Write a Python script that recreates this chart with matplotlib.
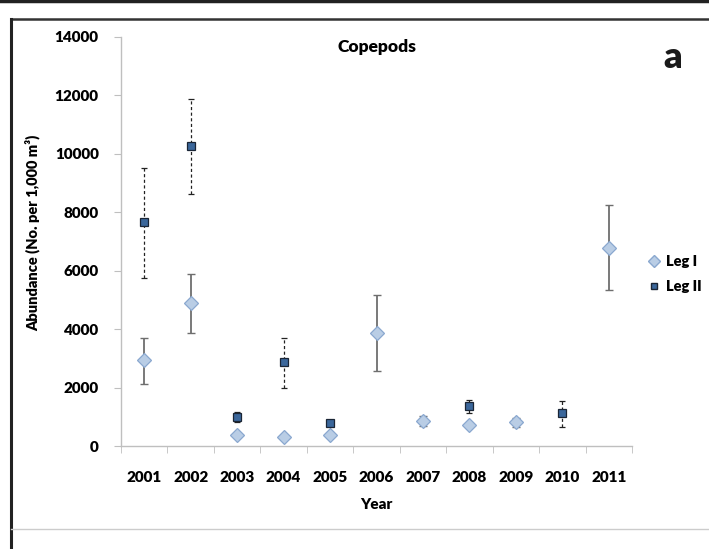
import numpy as np
import matplotlib
matplotlib.use("Agg")
import matplotlib.pyplot as plt
from matplotlib.lines import Line2D

# --- data (Copepods, panel a) ---
years = ["2001", "2002", "2003", "2004", "2005", "2006",
         "2007", "2008", "2009", "2010", "2011"]

leg1_mean = [2930, 4880, 380, 310, 370, 3870, 860, 720, 810, np.nan, 6780]
leg1_low = [2120, 3860, np.nan, np.nan, np.nan, 2570, 700, np.nan, 650, np.nan, 5350]
leg1_high = [3710, 5880, np.nan, np.nan, np.nan, 5170, 1020, np.nan, 970, np.nan, 8240]

leg2_mean = [7660, 10260, 1000, 2870, 790, np.nan, np.nan, 1380, np.nan, 1120, np.nan]
leg2_low = [5740, 8630, 810, 2000, np.nan, np.nan, np.nan, 1140, np.nan, 660, np.nan]
leg2_high = [9530, 11880, 1170, 3710, np.nan, np.nan, np.nan, 1590, np.nan, 1550, np.nan]

yticks = [0, 2000, 4000, 6000, 8000, 10000, 12000, 14000]

LEG1_FACE = "#b9cde5"
LEG1_EDGE = "#8aa8cf"
LEG2_FACE = "#3b679b"
LEG2_EDGE = "#1a2535"
AXIS_GRAY = "#bfbfbf"
BOLD = "heavy"  # Calibri Bold in the original looks heavier than Lato Bold

plt.rcParams["font.family"] = ["Lato", "DejaVu Sans"]
plt.rcParams["font.weight"] = BOLD


def err_from_bounds(mean, low, high):
    mean = np.asarray(mean, dtype=float)
    lo = mean - np.asarray(low, dtype=float)
    hi = np.asarray(high, dtype=float) - mean
    return np.vstack([np.nan_to_num(lo), np.nan_to_num(hi)])


fig = plt.figure(figsize=(7.09, 5.49), dpi=100)
ax = fig.add_axes([121 / 709, 1 - 446 / 549, 511 / 709, 409 / 549])

x = np.arange(len(years))

# Leg I: solid grey error bars
has1 = ~np.isnan(np.asarray(leg1_low, dtype=float))
ax.errorbar(x[has1], np.asarray(leg1_mean)[has1],
            yerr=err_from_bounds(leg1_mean, leg1_low, leg1_high)[:, has1],
            fmt="none", ecolor="#6e6e6e", elinewidth=1.3, capsize=3, capthick=1.0,
            zorder=2)
ax.plot(x, leg1_mean, linestyle="none", marker="D", markersize=7,
        markerfacecolor=LEG1_FACE, markeredgecolor=LEG1_EDGE, markeredgewidth=0.9, zorder=4)

# Leg II: dashed black error bars
has2 = ~np.isnan(np.asarray(leg2_low, dtype=float))
e2 = ax.errorbar(x[has2], np.asarray(leg2_mean)[has2],
                 yerr=err_from_bounds(leg2_mean, leg2_low, leg2_high)[:, has2],
                 fmt="none", ecolor="#222222", elinewidth=0.9, capsize=2, capthick=0.9,
                 zorder=2)
e2[2][0].set_linestyle((0, (2.5, 2)))
ax.plot(x, leg2_mean, linestyle="none", marker="s", markersize=5.5,
        markerfacecolor=LEG2_FACE, markeredgecolor=LEG2_EDGE, markeredgewidth=0.9, zorder=5)

ax.set_xlim(-0.5, len(years) - 0.5)
ax.set_ylim(0, 14000)
ax.set_yticks(yticks)
ax.set_yticklabels([str(v) for v in yticks], fontsize=11, fontweight=BOLD)

# category labels centred, tick marks on category boundaries
ax.set_xticks(x)
ax.set_xticklabels(years, fontsize=11, fontweight=BOLD)
ax.tick_params(axis="x", which="major", length=0, pad=18)
ax.set_xticks(np.arange(-0.5, len(years)), minor=True)
ax.tick_params(axis="x", which="minor", length=5, color=AXIS_GRAY, direction="out")
ax.tick_params(axis="y", length=5, color=AXIS_GRAY, pad=11)

for side in ["top", "right"]:
    ax.spines[side].set_visible(False)
for side in ["left", "bottom"]:
    ax.spines[side].set_color(AXIS_GRAY)
    ax.spines[side].set_linewidth(1.0)

ax.set_xlabel("Year", fontsize=11, fontweight=BOLD, labelpad=10)
ax.set_ylabel("Abundance (No. per 1,000 m³)", fontsize=10.5, fontweight=BOLD)
ax.yaxis.set_label_coords(-0.158, 0.52)

ax.text(0.5, 0.975, "Copepods", transform=ax.transAxes, ha="center", va="center",
        fontsize=12.5, fontweight=BOLD)
fig.text(673 / 709, 1 - 58 / 549, "a", ha="center", va="center",
         fontsize=26, fontweight=BOLD, color="#1a1a1a")

# legend outside on the right, markers only
handles = [
    Line2D([0], [0], linestyle="none", marker="D", markersize=6,
           markerfacecolor=LEG1_FACE, markeredgecolor=LEG1_EDGE, label="Leg I"),
    Line2D([0], [0], linestyle="none", marker="s", markersize=5,
           markerfacecolor=LEG2_FACE, markeredgecolor=LEG2_EDGE, label="Leg II"),
]
fig.legend(handles=handles, loc="center left", bbox_to_anchor=(635 / 709, 1 - 274 / 549),
           frameon=False, prop={"size": 10.5, "weight": BOLD},
           handlelength=0.8, handletextpad=0.4, labelspacing=0.8)

# page-like frame around the panel
W, H = 709, 549


def fig_line(x0, y0, x1, y1, **kw):
    fig.add_artist(Line2D([x0 / W, x1 / W], [1 - y0 / H, 1 - y1 / H],
                          transform=fig.transFigure, **kw))


fig_line(0, 1, W, 1, color="#222222", lw=2.5)
fig_line(11, 19, W, 19, color="#333333", lw=1.8)
fig_line(11, 19, 11, H, color="#222222", lw=2.2)
fig_line(11, 529, W, 529, color="#cccccc", lw=1.0)

fig.savefig("out.png", dpi=100)
